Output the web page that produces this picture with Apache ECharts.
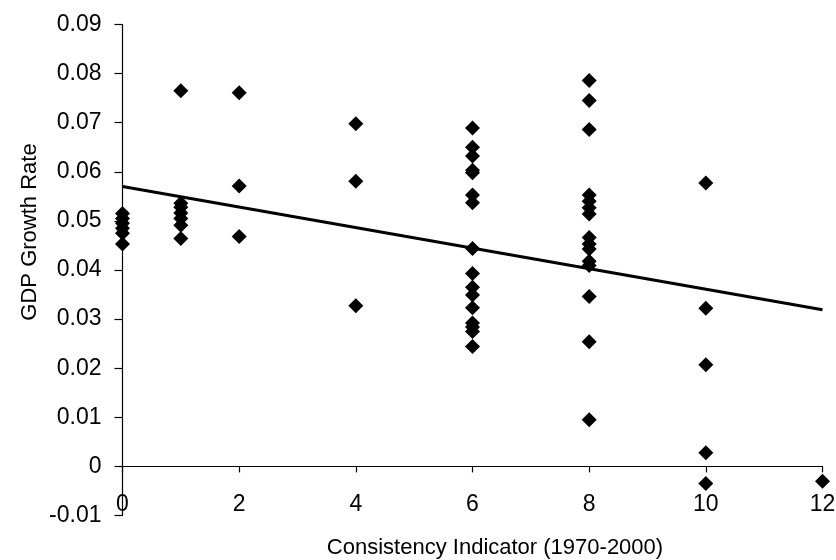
<!DOCTYPE html>
<html>
<head>
<meta charset="utf-8">
<title>GDP Growth Rate vs Consistency Indicator</title>
<script src="https://cdn.jsdelivr.net/npm/echarts@6/dist/echarts.min.js"></script>
<style>
  html, body { margin: 0; padding: 0; background: #fff; }
  #chart { width: 836px; height: 560px; }
</style>
</head>
<body>
<div id="chart"></div>
<script>
// Growth rates observed at each value of the consistency indicator
const growthAt0 = [0.0515, 0.0505, 0.0495, 0.0485, 0.0475, 0.0453];
const growthAt1 = [0.0765, 0.0536, 0.0528, 0.0516, 0.0505, 0.0491, 0.0464];
const growthAt2 = [0.0761, 0.0571, 0.0468];
const growthAt4 = [0.0698, 0.0581, 0.0327];
const growthAt6 = [0.0689, 0.0650, 0.0632, 0.0603, 0.0598, 0.0553, 0.0537, 0.0444,
                   0.0393, 0.0365, 0.0349, 0.0323, 0.0292, 0.0284, 0.0275, 0.0244];
const growthAt8 = [0.0786, 0.0745, 0.0686, 0.0553, 0.0540, 0.0527, 0.0514, 0.0466,
                   0.0453, 0.0443, 0.0418, 0.0409, 0.0346, 0.0254, 0.0095];
const growthAt10 = [0.0577, 0.0322, 0.0207, 0.0028, -0.0035];
const growthAt12 = [-0.0030];

const indicatorValues = [0, 1, 2, 4, 6, 8, 10, 12];
const growthColumns = [growthAt0, growthAt1, growthAt2, growthAt4,
                       growthAt6, growthAt8, growthAt10, growthAt12];

// Fitted linear trend, end points at indicator 0 and 12
const trendX = [0, 12];
const trendY = [0.0570, 0.0319];

// Axis ranges and tick steps
const yMin = -0.01, yMax = 0.09, yStep = 0.01;
const xMin = 0, xMax = 12, xStep = 2;

const scatterPoints = [];
indicatorValues.forEach((x, i) => {
  growthColumns[i].forEach(g => scatterPoints.push([x, g]));
});
const trendPoints = trendX.map((x, i) => [x, trendY[i]]);

const FONT = '"Liberation Sans", Arial, Helvetica, sans-serif';

const chart = echarts.init(document.getElementById('chart'), null, { renderer: 'canvas' });
chart.setOption({
  backgroundColor: '#ffffff',
  animation: false,
  grid: {
    left: 122.5, top: 24.5, width: 700, height: 491,
    containLabel: false, outerBoundsMode: 'none'
  },
  xAxis: {
    type: 'value',
    min: xMin, max: xMax, interval: xStep,
    axisLine: { onZero: true, lineStyle: { color: '#000', width: 1.2 } },
    axisTick: { show: true, inside: false, length: 6, lineStyle: { color: '#000', width: 1.2 } },
    // tick labels sit in the low band just above the plot's bottom edge
    axisLabel: { color: '#000', fontFamily: FONT, fontSize: 23, margin: -22 },
    splitLine: { show: false }
  },
  yAxis: {
    type: 'value',
    min: yMin, max: yMax, interval: yStep,
    axisLine: { show: true, onZero: false, lineStyle: { color: '#000', width: 1.2 } },
    axisTick: { show: true, inside: false, length: 8, lineStyle: { color: '#000', width: 1.2 } },
    axisLabel: {
      color: '#000', fontFamily: FONT, fontSize: 23, margin: 21,
      formatter: v => String(Number(v.toFixed(2)))
    },
    splitLine: { show: false }
  },
  graphic: [
    {
      type: 'text', x: 495, y: 537,
      style: { text: 'Consistency Indicator (1970-2000)', fill: '#000',
               font: '22px ' + FONT, align: 'center', verticalAlign: 'top' }
    },
    {
      type: 'text', rotation: Math.PI / 2, x: 19, y: 232,
      style: { text: 'GDP Growth Rate', fill: '#000', font: '22px ' + FONT,
               align: 'center', verticalAlign: 'top' }
    }
  ],
  series: [
    {
      type: 'scatter',
      data: scatterPoints,
      symbol: 'diamond',
      symbolSize: 15,
      itemStyle: { color: '#000', opacity: 1 },
      z: 3
    },
    {
      type: 'line',
      data: trendPoints,
      showSymbol: false,
      symbol: 'none',
      lineStyle: { color: '#000', width: 3 },
      z: 2
    }
  ]
});
</script>
</body>
</html>
